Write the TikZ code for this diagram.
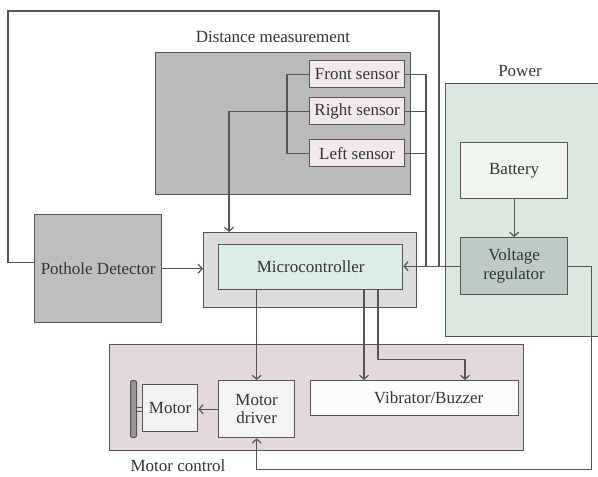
\documentclass[tikz,border=0pt]{standalone}
\usepackage{fontspec}
\setmainfont{Liberation Serif}
\usetikzlibrary{arrows.meta,calc}
\definecolor{ln}{HTML}{555555}
\definecolor{tx}{HTML}{353535}
\begin{document}
\begin{tikzpicture}[x=1pt,y=-1pt,
  font=\fontsize{17}{18.5}\selectfont, text=tx,
  blk/.style={draw=ln, line width=1.3pt, anchor=north west, inner sep=0pt, align=center},
  conn/.style={draw=ln, line width=1.3pt},
  arr/.style={conn, -{Straight Barb[length=4pt,width=9pt,line width=1.2pt]}}]
\useasboundingbox[fill=white] (0,0) rectangle (598,477);
% groups
\node[blk, fill={rgb,255:red,186;green,186;blue,186}, minimum width=255pt, minimum height=142pt] (dist) at (155,52) {};
\node[blk, fill={rgb,255:red,218;green,230;blue,222}, minimum width=160pt, minimum height=253pt] (power) at (445,83) {};
\node[blk, fill={rgb,255:red,226;green,216;blue,222}, minimum width=414pt, minimum height=106pt] (motorctl) at (109,344) {};
\node[blk, fill={rgb,255:red,221;green,219;blue,221}, minimum width=213pt, minimum height=75pt] (mcout) at (203,232) {};
% titles
\node (tdist) at (273,37) {Distance measurement};
\node (tpower) at (520,71) {Power};
\node (tmotor) at (178,466) {Motor control};
% blocks
\node[blk, fill={rgb,255:red,243;green,232;blue,238}, minimum width=95pt, minimum height=27pt] (front) at (309,60) {Front sensor};
\node[blk, fill={rgb,255:red,243;green,232;blue,238}, minimum width=95pt, minimum height=27pt] (right) at (309,97) {Right sensor};
\node[blk, fill={rgb,255:red,243;green,232;blue,238}, minimum width=95pt, minimum height=27pt] (left) at (309,139) {Left sensor};
\node[blk, fill={rgb,255:red,190;green,190;blue,190}, minimum width=127pt, minimum height=108pt] (pothole) at (34,214) {Pothole Detector};
\node[blk, fill={rgb,255:red,219;green,238;blue,229}, minimum width=184pt, minimum height=45pt] (mc) at (218,244) {Microcontroller};
\node[blk, fill={rgb,255:red,240;green,246;blue,239}, minimum width=107pt, minimum height=56pt] (battery) at (460,142) {Battery};
\node[blk, fill={rgb,255:red,189;green,203;blue,196}, minimum width=107pt, minimum height=57pt] (reg) at (460,237) {Voltage\\regulator};
\node[blk, fill={rgb,255:red,244;green,244;blue,246}, minimum width=76pt, minimum height=57pt] (driver) at (218,380) {Motor\\driver};
\node[blk, fill={rgb,255:red,242;green,242;blue,244}, minimum width=55pt, minimum height=47pt] (motor) at (142,384) {Motor};
\node[blk, fill={rgb,255:red,252;green,252;blue,252}, minimum width=208pt, minimum height=35pt] (vib) at (310,380) {\hspace*{28pt}Vibrator/Buzzer};
\node[draw=ln, line width=1pt, fill={rgb,255:red,150;green,150;blue,150}, rounded corners=2pt, anchor=north west, inner sep=0pt, minimum width=6pt, minimum height=57pt] (shaft) at (130,380) {};
% shaft coupling
\draw[conn, line width=1pt] ([yshift=2pt]shaft.east) -- ([yshift=2pt]shaft.east -| motor.west);
\draw[conn, line width=1pt] ([yshift=-2pt]shaft.east) -- ([yshift=-2pt]shaft.east -| motor.west);
% connectors
\coordinate (j1) at (439,265.5);
\coordinate (j2) at (426,265.5);
\coordinate (top) at (439,11);
\draw[conn] ([yshift=6pt]pothole.west) -- ++(-26,0) |- (top) -- (j1);
\draw[arr] (pothole.east) -- (pothole.east -| mcout.west);
\draw[arr] (right.west) -| ([xshift=26pt]mcout.north west);
\draw[conn] (front.west) -- ++(-22,0) |- (left.west);
\draw[conn] (front.east) -| (j2);
\draw[conn] (right.east) -- (right.east -| j2);
\draw[conn] (left.east) -- (left.east -| j2);
\draw[arr] (reg.west) -- (reg.west -| mc.east);
\draw[arr] (battery.south) -- (reg.north);
\draw[arr] (reg.east) -- ++(23,0) -- ++(0,203.5) -| (driver.south);
\draw[arr] (driver.north |- mc.south) -- (driver.north);
\draw[arr] ([xshift=54pt]vib.north west |- mc.south) -- ([xshift=54pt]vib.north west);
\draw[arr] ([xshift=68pt]vib.north west |- mc.south) -- ++(0,69) -| ([xshift=155pt]vib.north west);
\draw[arr] (driver.west) -- (driver.west -| motor.east);
\end{tikzpicture}
\end{document}
